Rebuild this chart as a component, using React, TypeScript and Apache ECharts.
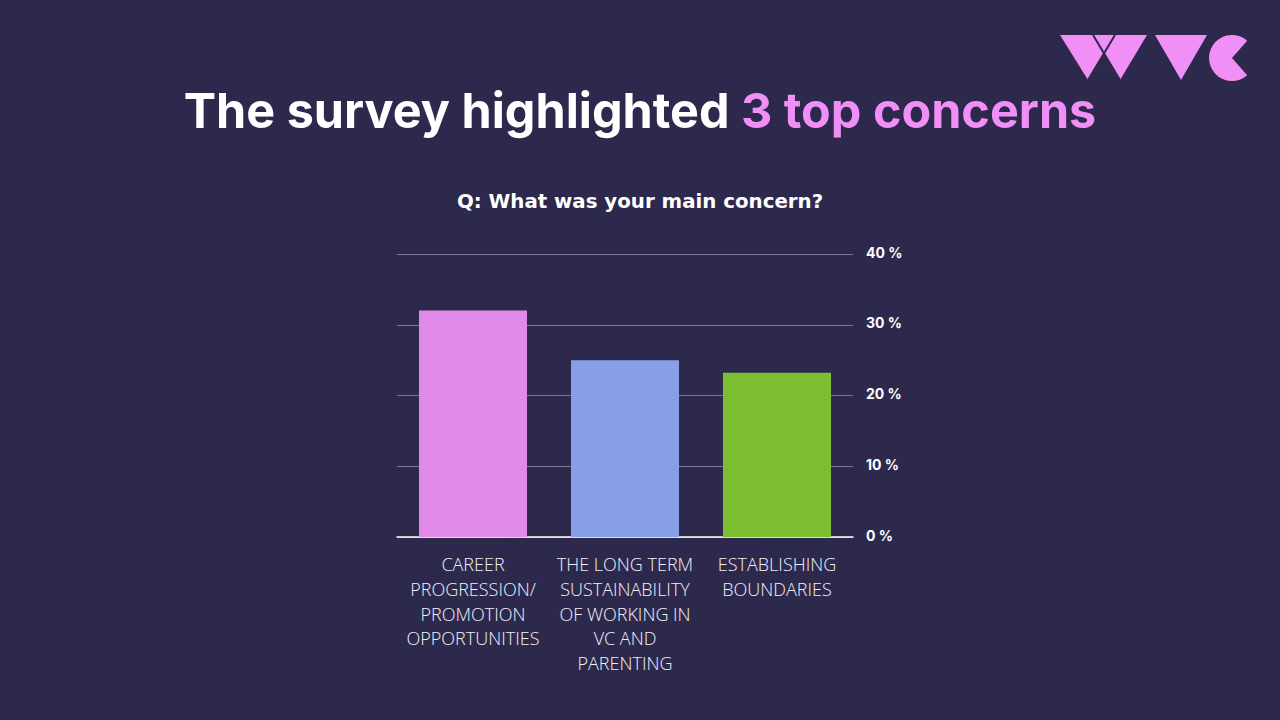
import React, { useEffect, useRef } from "react";
import * as echarts from "echarts";

const categories = [
  "CAREER\nPROGRESSION/\nPROMOTION\nOPPORTUNITIES",
  "THE LONG TERM\nSUSTAINABILITY\nOF WORKING IN\nVC AND\nPARENTING",
  "ESTABLISHING\nBOUNDARIES",
];
const values = [32, 25, 23.2];
const barColors = ["#E08AEA", "#889FE8", "#7DBE30"];
const yTicks = { min: 0, max: 40, interval: 10 };

const BG = "#2D294D";
const PINK = "#F08FF5";

export default function App() {
  const ref = useRef<HTMLDivElement>(null);
  useEffect(() => {
    const chart = echarts.init(ref.current!, null, { renderer: "svg" });
    chart.setOption({
      animation: false,
      backgroundColor: BG,
      grid: { left: 397, right: 427, top: 254, bottom: 183 },
      xAxis: {
        type: "category",
        data: categories,
        axisLine: { show: true, lineStyle: { color: "#FFFFFF", width: 1.5 } },
        axisTick: { show: false },
        axisLabel: {
          interval: 0,
          margin: 15,
          color: "#F2F1F8",
          fontFamily: "Open Sans",
          fontWeight: 300,
          fontSize: 18,
          lineHeight: 24.6,
          align: "center",
        },
      },
      yAxis: {
        type: "value",
        position: "right",
        min: yTicks.min,
        max: yTicks.max,
        interval: yTicks.interval,
        axisLine: { show: false },
        axisTick: { show: false },
        splitLine: { lineStyle: { color: "rgba(255,255,255,0.38)", width: 1 } },
        axisLabel: {
          margin: 13,
          color: "#FFFFFF",
          fontFamily: "Inter",
          fontWeight: "bold",
          fontSize: 14,
          formatter: "{value} %",
          verticalAlign: "bottom",
          lineHeight: 14,
          padding: [0, 0, -5, 0],
        },
      },
      series: [
        {
          type: "bar",
          barWidth: 108,
          data: values.map((v, i) => ({ value: v, itemStyle: { color: barColors[i] } })),
        },
      ],
      graphic: [
        {
          type: "text",
          x: 640,
          y: 110,
          style: {
            text: "{a|The survey highlighted }{b|3 top concerns}",
            align: "center",
            verticalAlign: "middle",
            rich: {
              a: { fontFamily: "Inter", fontWeight: "bold", fontSize: 48.5, fill: "#FFFFFF" },
              b: { fontFamily: "Inter", fontWeight: "bold", fontSize: 48.5, fill: PINK },
            },
          },
        },
        {
          type: "text",
          x: 640,
          y: 201,
          style: {
            text: "Q: What was your main concern?",
            align: "center",
            verticalAlign: "middle",
            fontFamily: "DejaVu Sans",
            fontWeight: "bold",
            fontSize: 19.8,
            fill: "#FFFFFF",
          },
        },
        {
          type: "polygon",
          shape: { points: [[1060, 35], [1115, 35], [1088, 80]] },
          style: { fill: PINK },
        },
        {
          type: "polygon",
          shape: { points: [[1093, 35], [1147, 35], [1120, 80]] },
          style: { fill: PINK },
        },
        {
          type: "line",
          shape: { x1: 1115, y1: 35, x2: 1088, y2: 80 },
          style: { stroke: BG, lineWidth: 2 },
        },
        {
          type: "line",
          shape: { x1: 1093, y1: 35, x2: 1120, y2: 80 },
          style: { stroke: BG, lineWidth: 2 },
        },
        {
          type: "polygon",
          shape: { points: [[1155, 35], [1207, 35], [1181, 80]] },
          style: { fill: PINK },
        },
        {
          type: "sector",
          shape: {
            cx: 1232,
            cy: 58,
            r: 23,
            r0: 0,
            startAngle: 0.85,
            endAngle: 2 * Math.PI - 0.85,
            clockwise: true,
          },
          style: { fill: PINK },
        },
      ],
    });
    return () => chart.dispose();
  }, []);
  return (
    <div
      ref={ref}
      style={{ position: "fixed", left: 0, top: 0, width: 1280, height: 720 }}
    />
  );
}
